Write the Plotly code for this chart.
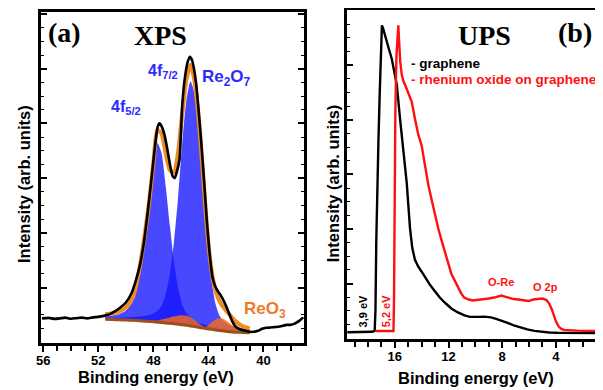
import plotly.graph_objects as go

# ---------------- XPS (a) data ----------------
xps_E = [56.1, 55.6, 55.2, 54.8, 54.4, 54.0, 53.6, 53.2, 52.8, 52.4, 52.0, 51.6, 51.2, 50.8, 50.4,
         50.0, 49.6, 49.3, 49.0, 48.7, 48.4, 48.1, 47.9, 47.7, 47.55, 47.4, 47.2, 47.0, 46.8, 46.6,
         46.45, 46.3, 46.1, 45.9, 45.7, 45.5, 45.35, 45.2, 45.05, 44.9, 44.7, 44.5, 44.3, 44.1, 43.9,
         43.7, 43.5, 43.3, 43.1, 42.9, 42.7, 42.5, 42.3, 42.1, 41.9, 41.6, 41.3, 41.0, 40.7, 40.4,
         40.1, 39.8, 39.5, 39.2, 38.9, 38.6, 38.3, 38.0, 37.7, 37.4, 37.1]
xps_I = [25, 25.5, 24.5, 25, 25.8, 24.6, 25.2, 25.8, 25, 26, 26.5, 27.5, 29, 32, 36,
         41, 50, 62, 77, 100, 133, 170, 196, 217, 221, 218, 210, 196, 180, 168,
         166, 172, 185, 240, 268, 283, 288, 285, 276, 262, 232, 198, 160, 120, 88,
         66, 57, 52, 48, 43, 37, 30, 23, 18, 15.5, 13.5, 12.5, 11.5, 11.5, 12.5,
         14.5, 15.5, 15.8, 16.2, 16.5, 17.5, 18.5, 18.5, 20, 22.5, 26]

fit_E = [51.5, 51.0, 50.5, 50.0, 49.5, 49.0, 48.6, 48.3, 48.0, 47.7, 47.4, 47.1, 46.8, 46.5, 46.2,
         45.9, 45.6, 45.3, 45.0, 44.7, 44.4, 44.1, 43.8, 43.5, 43.2, 42.9, 42.6, 42.3, 42.0, 41.5, 41.0]
background = [24, 23.8, 23.6, 23.3, 23, 22.6, 22.2, 21.9, 21.6, 21.2, 20.8, 20.4, 20, 19.6, 19.2,
              18.7, 18.1, 17.4, 16.7, 16, 15.3, 14.6, 14, 13.4, 12.8, 12.3, 11.8, 11.4, 11.1, 10.8, 10.6]
re2o7_4f52 = [3, 4, 5.5, 9.5, 19, 48, 83, 113, 150, 180, 170, 137, 98, 62, 36,
              20, 12, 8, 6, 4.6, 4.0, 3.4, 3.0, 2.6, 2.2, 1.9, 1.7, 1.5, 1.4, 1.1, 0.9]
re2o7_4f72 = [1.5, 1.8, 2.1, 2.6, 3.3, 4.3, 5.5, 6.6, 8.3, 11.5, 17, 29, 50, 83, 128,
              183, 226, 246, 234, 200, 150, 94, 52, 27, 15, 10, 7.5, 6.2, 5.2, 4.0, 3.2]
reo3_4f52 = [0.5, 0.6, 0.7, 0.8, 0.9, 1.0, 1.1, 1.2, 1.3, 1.5, 3, 4.5, 6, 7.5, 8.8,
             9.5, 9.5, 8.5, 6.5, 4, 1.8, 0.5, 0.1, 0, 0, 0, 0, 0, 0, 0, 0]
reo3_4f72 = [0, 0, 0, 0, 0, 0, 0, 0, 0, 0, 0, 0, 0, 0, 0,
             0, 0, 0, 0, 0, 0.5, 2.5, 6.5, 10.5, 12.5, 12, 10, 7, 4, 1, 0]

# ---------------- UPS (b) data ----------------
gr_E = [19.55, 19.0, 18.5, 18.0, 17.7, 17.5, 17.44, 17.38, 17.3, 17.22, 17.12, 17.03, 16.96, 16.85,
        16.72, 16.5, 16.22, 16.0, 15.85, 15.61, 15.36, 15.11, 14.87, 14.7, 14.5, 14.25, 14.0, 13.7,
        13.39, 13.0, 12.65, 12.2, 11.79, 11.3, 10.81, 10.4, 10.07, 9.7, 9.35, 8.84, 8.45, 8.1, 7.6,
        7.14, 6.6, 6.13, 5.6, 5.14, 4.5, 3.91, 2.5, 0.49]
gr_I = [7, 7.2, 7, 7.3, 7.5, 8.5, 30, 100, 160, 200, 250, 295, 316, 312,
        305, 295, 282, 268, 256, 222, 189, 157, 112, 92, 80, 73, 68, 61,
        55, 48, 42, 36, 31, 27, 24, 22.5, 22.3, 22.5, 22.8, 22, 20.5, 19, 16.5,
        14, 11.5, 10, 8.5, 7.5, 6.8, 6.5, 6.3, 6.3]

reo_E = [17.45, 17.0, 16.5, 16.1, 16.06, 16.02, 15.96, 15.88, 15.8, 15.74, 15.68, 15.6, 15.48, 15.36,
         15.2, 14.95, 14.74, 14.5, 14.25, 14.0, 13.75, 13.5, 13.25, 13.0, 12.77, 12.53, 12.27, 12.03,
         11.79, 11.42, 11.05, 10.83, 10.5, 10.19, 9.8, 9.4, 9.0, 8.6, 8.3, 8.05, 7.8, 7.5, 7.14, 6.8,
         6.4, 6.03, 5.7, 5.3, 5.0, 4.7, 4.5, 4.3, 4.15, 4.0, 3.8, 3.6, 3.4, 3.0, 2.4, 1.5, 0.49]
reo_I = [8.3, 8.3, 8.2, 8.3, 40, 150, 230, 285, 310, 316, 300, 280, 266, 260,
         255, 246, 239, 222, 206, 195, 175, 155, 140, 124, 112, 100, 88, 77,
         66, 56, 46, 42, 40, 39, 39.5, 40.5, 41, 42, 43.5, 44, 43, 41.5, 40.5, 40,
         39, 38.5, 40, 41, 41, 39.5, 36, 30, 24, 18, 13, 10.5, 9.5, 9, 8.7, 8.5, 8.3]

# ---------------- figure ----------------
# The page body has an 8 px margin, so the figure is 8 px smaller and every
# page-pixel position below is shifted by that offset.
OFF = 8
W, H = 603 - OFF, 390 - OFF
fig = go.Figure()

BLUE_FILL = "rgba(20,20,255,0.78)"
ORANGE_FILL = "rgba(250,108,22,0.8)"


def comp_polygon(vals):
    idx = [i for i, v in enumerate(vals) if v > 0]
    i0, i1 = max(idx[0] - 1, 0), min(idx[-1] + 1, len(vals) - 1)
    xs = fit_E[i0:i1 + 1]
    top = [background[i] + vals[i] for i in range(i0, i1 + 1)]
    bot = background[i0:i1 + 1]
    return xs + xs[::-1], top + bot[::-1]


for comp, col in [(re2o7_4f52, BLUE_FILL), (re2o7_4f72, BLUE_FILL),
                  (reo3_4f52, ORANGE_FILL), (reo3_4f72, ORANGE_FILL)]:
    px, py = comp_polygon(comp)
    fig.add_trace(go.Scatter(x=px, y=py, fill="toself", fillcolor=col, mode="lines",
                             line=dict(width=0, shape="spline", smoothing=0.6),
                             hoverinfo="skip", showlegend=False, xaxis="x", yaxis="y"))

fig.add_trace(go.Scatter(x=fit_E, y=background, mode="lines",
                         line=dict(color="#9c4f1c", width=3, shape="spline", smoothing=0.6),
                         showlegend=False, xaxis="x", yaxis="y"))
envelope = [background[i] + re2o7_4f52[i] + re2o7_4f72[i] + reo3_4f52[i] + reo3_4f72[i]
            for i in range(len(fit_E))]
fig.add_trace(go.Scatter(x=fit_E, y=envelope, mode="lines",
                         line=dict(color="#f08a24", width=4.2, shape="spline", smoothing=0.6),
                         showlegend=False, xaxis="x", yaxis="y"))
fig.add_trace(go.Scatter(x=xps_E, y=xps_I, mode="lines",
                         line=dict(color="black", width=2.6, shape="spline", smoothing=0.5),
                         showlegend=False, xaxis="x", yaxis="y"))

fig.add_trace(go.Scatter(x=gr_E, y=gr_I, mode="lines", name="graphene",
                         line=dict(color="black", width=2.4),
                         showlegend=False, xaxis="x2", yaxis="y2"))
fig.add_trace(go.Scatter(x=reo_E, y=reo_I, mode="lines", name="rhenium oxide on graphene",
                         line=dict(color="#ff1010", width=2.4),
                         showlegend=False, xaxis="x2", yaxis="y2"))


def px2x(p):
    return (p - OFF) / W


def px2y(p):
    return 1 - (p - OFF) / H


tickfont = dict(family="Liberation Sans, Arial", size=13, color="black", weight="bold")
common_x = dict(showline=True, linewidth=2.5, linecolor="black", mirror=True,
                ticks="outside", ticklen=6, tickwidth=2, tickcolor="black",
                tick0=0, dtick=4, tickfont=tickfont, showgrid=False, zeroline=False,
                ticklabelstandoff=-3,
                minor=dict(dtick=1, ticks="outside", ticklen=5, tickwidth=1.5, tickcolor="black"))
common_y = dict(showline=True, linewidth=2.5, linecolor="black",
                ticks="inside", ticklen=6, tickwidth=1.5, tickcolor="black",
                tick0=1, dtick=55, showticklabels=False, showgrid=False, zeroline=False,
                minor=dict(tick0=1, dtick=13.75, ticks="inside", ticklen=3, tickwidth=1, tickcolor="black"))

fig.update_layout(
    width=W, height=H, margin=dict(l=0, r=0, t=0, b=0),
    paper_bgcolor="white", plot_bgcolor="white", showlegend=False,
    xaxis=dict(domain=[px2x(36.5), px2x(301.5)], range=[56.15, 37.05], anchor="y", **common_x),
    yaxis=dict(domain=[px2y(343), px2y(10)], range=[0, 333], anchor="x", mirror="ticks", **common_y),
    xaxis2=dict(domain=[px2x(345), 1.0], range=[19.55, 0.49], anchor="y2", **common_x),
    yaxis2=dict(domain=[px2y(339), px2y(8.5)], range=[0, 331], anchor="x2", mirror=False, **common_y),
)

SANS = "Liberation Sans, Arial"
SERIF = "Liberation Serif, Times New Roman"


def ann(text, x, y, size, color="black", family=SANS, angle=0, xanchor="center"):
    fig.add_annotation(text=text, x=px2x(x), y=px2y(y), xref="paper", yref="paper",
                       showarrow=False, textangle=angle, xanchor=xanchor, yanchor="middle",
                       font=dict(family=family, size=size, color=color, weight="bold"))


# panel (a)
ann("(a)", 60, 31, 28, family=SERIF)
ann("XPS", 157, 34, 28, family=SERIF)
ann("4f<sub>5/2</sub>", 105, 106, 16, color="#2b2bff", xanchor="left")
ann("4f<sub>7/2</sub>", 142, 70, 16, color="#2b2bff", xanchor="left")
ann("Re<sub>2</sub>O<sub>7</sub>", 197, 76, 17, color="#2b2bff", xanchor="left")
ann("ReO<sub>3</sub>", 239, 310, 17, color="#f07a28", xanchor="left")
ann("Intensity (arb. units)", 19, 183, 16.5, angle=-90)
ann("Binding energy (eV)", 152, 377, 16.5)

# panel (b)
ann("UPS", 483, 34, 28, family=SERIF)
ann("(b)", 575, 31, 28, family=SERIF)
ann("- graphene", 407, 62, 13.5, xanchor="left")
ann("- rhenium oxide on graphene", 407, 78, 13.5, color="#ff1010", xanchor="left")
ann("O-Re", 500, 281, 11, color="#ff1010")
ann("O 2p", 545, 286, 11, color="#ff1010")
ann("3,9 eV", 361, 311, 11, angle=-90)
ann("5,2 eV", 385, 311, 11, color="#ff1010", angle=-90)
ann("Intensity (arb. units)", 331, 182, 16.5, angle=-90)
ann("Binding energy (eV)", 475, 378, 16.5)

fig.write_html("out.html")
